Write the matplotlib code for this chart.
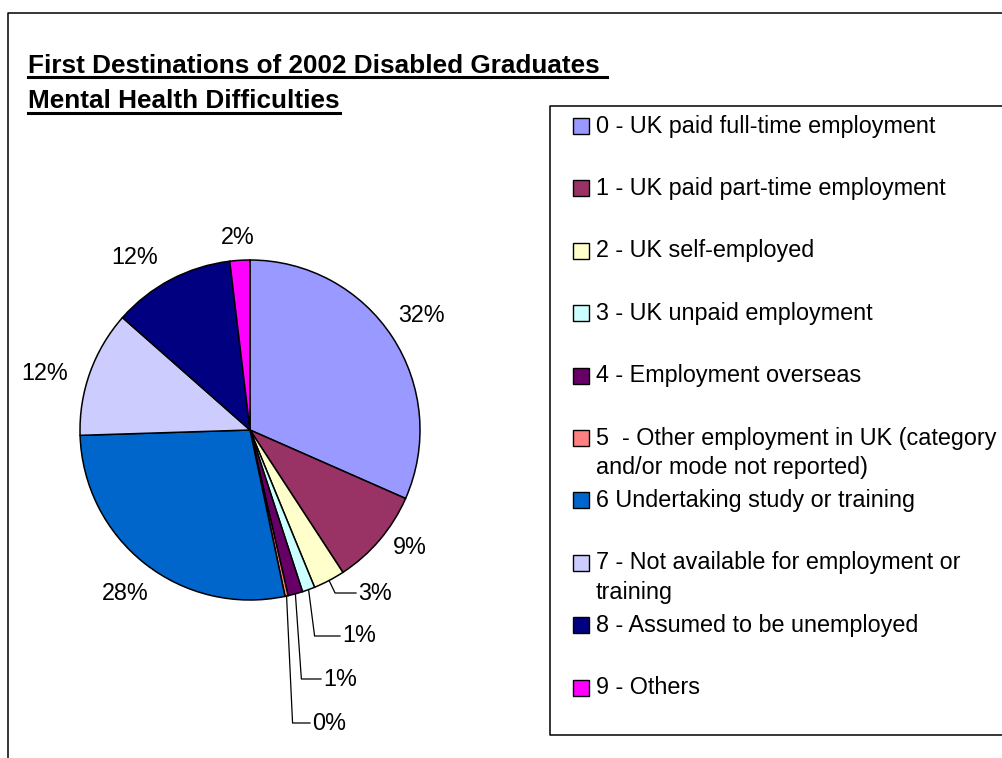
import numpy as np
from matplotlib import pyplot as plt
from matplotlib.lines import Line2D
from matplotlib.patches import Rectangle

plt.rcParams['font.family'] = ['Liberation Sans', 'DejaVu Sans']

# destination categories and share of graduates (%)
categories = [
    '0 - UK paid full-time employment',
    '1 - UK paid part-time employment',
    '2 - UK self-employed',
    '3 - UK unpaid employment',
    '4 - Employment overseas',
    '5  - Other employment in UK (category\nand/or mode not reported)',
    '6 Undertaking study or training',
    '7 - Not available for employment or\ntraining',
    '8 - Assumed to be unemployed',
    '9 - Others',
]
shares = [31.6, 9.2, 3.0, 1.2, 1.4, 0.3, 27.8, 12.0, 11.6, 1.9]
colors = ['#9999FF', '#993366', '#FFFFCC', '#CCFFFF', '#660066',
          '#FF8080', '#0066CC', '#CCCCFF', '#000080', '#FF00FF']

title_lines = ['First Destinations of 2002 Disabled Graduates ',
               'Mental Health Difficulties']

W, H = 1002, 758
CX, CY, R = 250, 430, 170          # pie centre and radius in pixels

# where each percentage label sits (pixels); leader=True -> left aligned with elbow line
label_pos = [(421, 315), (410, 548), (358, 593), (342, 636), (323, 679),
             (312, 723), (125, 593), (45, 373), (135, 258), (238, 237)]
leader = [False, False, True, True, True, True, False, False, False, False]


def px2data(px, py):
    return (px - CX) / R, (CY - py) / R


def fig_xy(px, py):
    return px / W, 1 - py / H


fig = plt.figure(figsize=(W / 100, H / 100), dpi=100)
ax = fig.add_axes([0, 0, 1, 1])

wedges, _ = ax.pie(shares, colors=colors, startangle=90, counterclock=False,
                   radius=1, wedgeprops=dict(edgecolor='black', linewidth=1.1))
ax.set_xlim(-CX / R, (W - CX) / R)
ax.set_ylim((CY - H) / R, CY / R)
ax.set_aspect('auto')
ax.axis('off')

total = sum(shares)
for i, w in enumerate(wedges):
    txt = '%.0f%%' % (shares[i] / total * 100)
    lx, ly = px2data(*label_pos[i])
    if leader[i]:
        mid = np.deg2rad((w.theta1 + w.theta2) / 2)
        sx, sy = np.cos(mid), np.sin(mid)
        ex = sx + 6 / R
        ax.plot([sx, ex, lx - 2 / R], [sy, ly, ly], color='black', lw=0.9)
        ax.text(lx, ly, txt, ha='left', va='center', fontsize=16.8)
    else:
        ax.text(lx, ly, txt, ha='center', va='center', fontsize=16.8)

# title, underlined line by line
renderer = fig.canvas.get_renderer()
for k, line in enumerate(title_lines):
    x0, y0 = fig_xy(28, 73 + k * 35)
    t = fig.text(x0, y0, line, fontsize=18.8, fontweight='bold', ha='left', va='baseline')
    bb = t.get_window_extent(renderer)
    uy = y0 - 4.5 / H
    fig.add_artist(Line2D([bb.x0 / W, bb.x1 / W], [uy, uy], transform=fig.transFigure,
                          color='black', lw=2.2))

# legend box (runs off the right edge)
bx0, by0 = fig_xy(550, 106)
bx1, by1 = fig_xy(550, 735)
fig.add_artist(Line2D([1.01, bx0, bx0, 1.01], [by0, by0, by1, by1],
                      transform=fig.transFigure, color='black', lw=1.1))

for i, (name, c) in enumerate(zip(categories, colors)):
    yc = 126 + i * 62.4
    sx0, sy0 = fig_xy(573, yc + 8)
    fig.add_artist(Rectangle((sx0, sy0), 16 / W, 16 / H, transform=fig.transFigure,
                             facecolor=c, edgecolor='black', lw=1.0))
    for j, part in enumerate(name.split('\n')):
        tx, ty = fig_xy(596, yc + j * 29.5)
        fig.text(tx, ty, part, fontsize=16.8, ha='left', va='center')

# outer chart border
ox, oy = fig_xy(8, 13)
fig.add_artist(Line2D([ox, ox, 1.01], [-0.01, oy, oy], transform=fig.transFigure,
                      color='black', lw=1.1))

fig.savefig('out.png', dpi=100)
